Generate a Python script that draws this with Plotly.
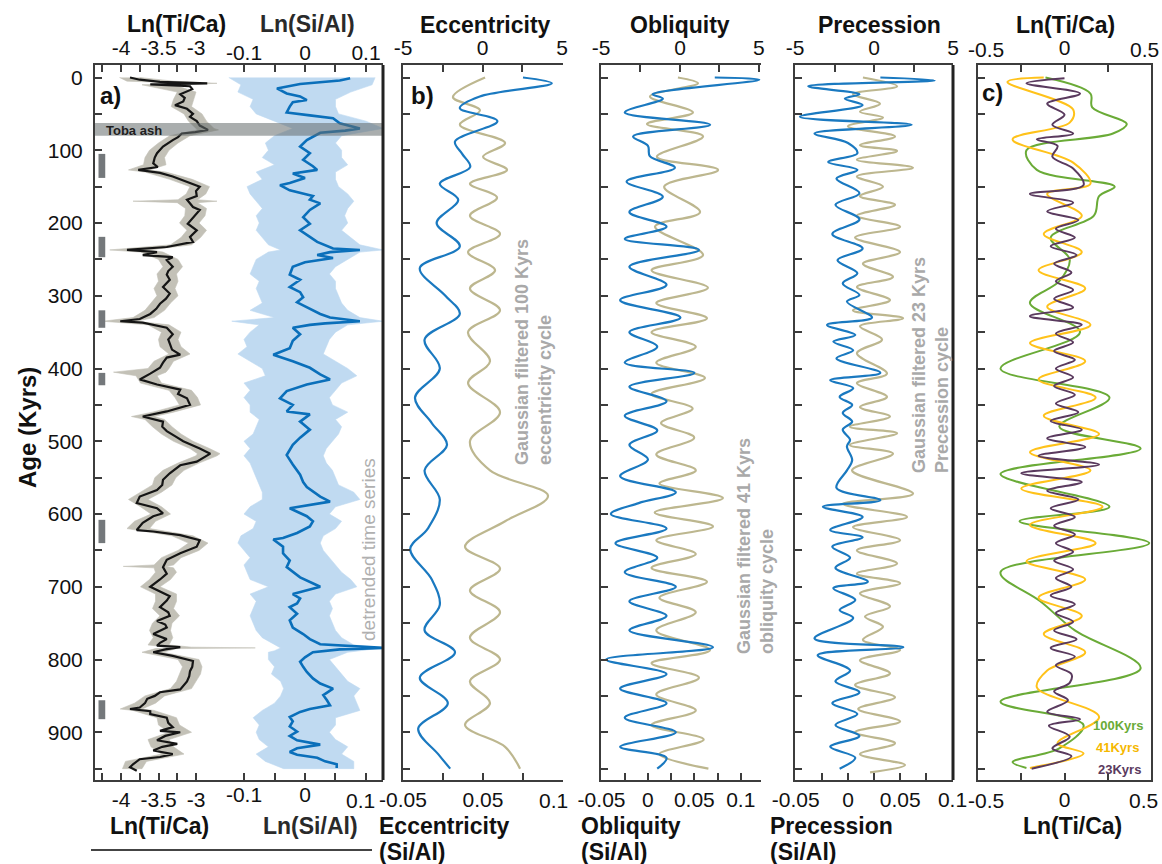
import plotly.graph_objects as go

W, H = 1162, 864
FONT = "Liberation Sans, Arial, Helvetica, sans-serif"

# ---------------- Panel a : Ln(Ti/Ca) ----------------
ti_age = [0,3,6,8,9.5,12,16,20,23,28,33,38,43,50,54,60,66,72,75,77,82,86,95,104,110,118,123,127,131,136,143,150,156,163,168,178,182,192,201,210,219,226,233,237,240,244,247,251,260,266,271,278,288,297,304,311,318,325,332,335,337,344,353,360,367,374,381,385,392,399,407,415,422,429,435,441,450,459,466,473,480,486,493,500,510,517,528,533,544,553,560,567,576,585,592,599,603,612,622,624,629,636,645,654,663,668,673,682,690,700,707,713,719,728,735,740,747,752,756,765,772,777,781,783,786,790,795,802,810,816,823,830,841,845,850,854,860,866,868,871,875,880,887,893,898,900,905,911,916,920,925,930,934,937,944,948,953]
ti_val = [-3.88,-3.75,-3.48,-2.85,-3.61,-3.08,-3.05,-3.13,-3.21,-3.15,-3.17,-3.28,-3.12,-3.04,-3.08,-2.99,-2.95,-2.84,-3.01,-3.19,-3.24,-3.31,-3.44,-3.52,-3.55,-3.57,-3.51,-3.77,-3.48,-3.31,-3.12,-2.95,-3.00,-2.99,-3.12,-3.04,-2.95,-3.04,-3.11,-2.99,-3.08,-3.04,-3.39,-3.92,-3.52,-3.71,-3.31,-3.39,-3.31,-3.37,-3.39,-3.35,-3.44,-3.35,-3.40,-3.48,-3.53,-3.61,-3.75,-4.01,-3.71,-3.39,-3.31,-3.37,-3.35,-3.32,-3.21,-3.39,-3.44,-3.48,-3.61,-3.75,-3.52,-3.21,-3.24,-3.12,-3.08,-3.39,-3.71,-3.44,-3.45,-3.39,-3.28,-3.17,-2.95,-2.81,-2.99,-3.21,-3.35,-3.44,-3.45,-3.52,-3.75,-3.79,-3.52,-3.44,-3.57,-3.71,-3.79,-3.57,-3.21,-2.95,-2.99,-3.21,-3.39,-3.41,-3.44,-3.39,-3.48,-3.61,-3.48,-3.35,-3.39,-3.48,-3.37,-3.35,-3.52,-3.41,-3.39,-3.57,-3.39,-3.48,-3.52,-3.21,-3.41,-3.57,-3.31,-3.04,-3.05,-3.08,-3.09,-3.12,-3.21,-3.48,-3.55,-3.65,-3.68,-3.75,-3.88,-3.61,-3.61,-3.39,-3.37,-3.31,-3.48,-3.21,-3.41,-3.52,-3.25,-3.45,-3.57,-3.31,-3.48,-3.75,-3.84,-3.88,-3.79]

# raw (non-filtered) Ln(Ti/Ca) spread, low / high edge
ti_raw_age = [0,5,8,10,20,30,40,50,60,70,72,80,90,100,110,120,127,130,140,150,160,168,170,172,180,190,200,210,220,230,237,240,250,260,270,280,290,300,310,320,330,335,340,350,360,370,380,390,400,405,410,420,430,440,450,460,466,470,480,490,500,510,517,520,530,540,550,560,570,580,590,600,610,620,630,640,650,660,670,672,674,680,690,700,710,720,730,740,750,760,770,780,783,784,785,790,800,810,820,830,840,850,860,868,870,880,890,900,910,920,930,940,950]
ti_raw_lo = [-4.02,-3.92,-3.05,-3.72,-3.25,-3.30,-3.33,-3.16,-3.10,-3.00,-2.98,-3.35,-3.50,-3.62,-3.68,-3.70,-3.90,-3.68,-3.35,-3.08,-3.13,-3.24,-3.84,-3.25,-3.14,-3.15,-3.22,-3.12,-3.20,-3.34,-4.15,-3.74,-3.50,-3.44,-3.52,-3.50,-3.56,-3.52,-3.60,-3.68,-3.84,-4.24,-3.64,-3.46,-3.50,-3.48,-3.36,-3.56,-3.64,-4.10,-3.80,-3.74,-3.36,-3.28,-3.22,-3.58,-3.86,-3.68,-3.58,-3.46,-3.30,-3.08,-2.98,-3.00,-3.24,-3.44,-3.55,-3.58,-3.74,-3.90,-3.74,-3.60,-3.82,-3.92,-3.32,-3.10,-3.24,-3.46,-3.56,-3.97,-3.56,-3.54,-3.62,-3.74,-3.54,-3.54,-3.58,-3.48,-3.58,-3.62,-3.57,-3.64,-3.36,-3.34,-3.54,-3.72,-3.24,-3.18,-3.22,-3.26,-3.34,-3.68,-3.82,-4.01,-3.84,-3.52,-3.50,-3.36,-3.64,-3.60,-3.46,-3.94,-3.98]
ti_raw_hi = [-3.75,-3.30,-2.72,-3.30,-3.00,-3.03,-3.06,-2.92,-2.86,-2.76,-2.70,-3.08,-3.24,-3.36,-3.42,-3.40,-3.62,-3.40,-3.05,-2.82,-2.87,-2.98,-2.72,-2.98,-2.86,-2.88,-2.96,-2.86,-2.94,-3.06,-3.62,-3.44,-3.24,-3.18,-3.26,-3.24,-3.28,-3.24,-3.34,-3.42,-3.56,-3.80,-3.36,-3.20,-3.24,-3.20,-3.08,-3.30,-3.36,-3.40,-3.52,-3.46,-3.06,-2.98,-2.94,-3.30,-3.56,-3.42,-3.32,-3.20,-3.04,-2.82,-2.68,-2.72,-2.96,-3.16,-3.27,-3.32,-3.46,-3.64,-3.46,-3.34,-3.54,-3.62,-3.04,-2.84,-2.96,-3.20,-3.30,-3.40,-3.30,-3.26,-3.34,-3.48,-3.26,-3.26,-3.30,-3.22,-3.32,-3.34,-3.31,-3.36,-3.06,-2.21,-3.26,-3.44,-2.96,-2.92,-2.94,-3.00,-3.06,-3.42,-3.54,-3.72,-3.56,-3.26,-3.22,-3.06,-3.36,-3.30,-3.16,-3.66,-3.72]

# ---------------- Panel a : Ln(Si/Al) ----------------
si_age = [1,4,9,15,22,26,31,34,40,48,52,56,63,70,73,76,86,95,104,113,122,127,132,138,145,148,155,163,168,173,182,192,201,210,219,226,235,237,240,244,248,254,260,271,278,288,295,302,309,316,325,330,335,338,340,344,353,362,372,381,390,399,408,415,422,431,441,450,459,463,473,484,495,505,519,532,546,556,563,576,583,592,603,610,617,626,633,635,645,654,664,673,687,700,710,716,723,728,737,746,756,765,772,779,784,786,790,797,803,810,817,826,833,840,849,856,863,868,872,879,885,892,899,905,911,917,922,927,931,935,940,944,949]
si_val = [0.074,0.057,-0.008,-0.046,-0.030,-0.008,0.003,-0.020,-0.025,-0.030,0.008,0.046,0.057,0.090,0.066,0.025,0.003,-0.008,0.008,-0.003,0.013,0.020,-0.020,0.000,-0.025,-0.041,-0.025,0.013,0.008,0.025,0.008,-0.003,0.008,-0.008,0.008,0.020,0.046,0.090,0.041,0.020,0.046,0.000,-0.020,-0.025,-0.008,-0.025,-0.008,-0.003,-0.013,0.003,0.025,0.041,0.090,0.033,0.008,-0.020,-0.008,-0.020,-0.025,-0.052,-0.020,0.008,0.025,0.041,0.003,-0.030,-0.041,-0.020,-0.030,0.008,-0.008,0.008,-0.008,-0.020,-0.030,-0.020,-0.008,-0.003,0.003,0.025,0.041,-0.025,0.003,0.013,0.008,-0.013,-0.036,-0.052,-0.036,-0.036,-0.025,-0.030,-0.008,0.025,-0.020,-0.008,-0.013,-0.025,-0.013,-0.025,-0.020,-0.003,0.008,0.025,0.128,0.057,0.013,0.000,-0.008,-0.003,0.003,0.013,0.025,0.046,0.030,0.036,0.041,0.008,-0.008,-0.025,-0.020,-0.025,-0.013,-0.025,-0.013,0.025,-0.013,-0.025,-0.013,0.020,0.033,0.052,0.052]

si_raw_age = [0,10,20,30,40,50,60,70,80,90,100,110,120,130,140,150,160,170,180,190,200,210,220,230,237,240,250,260,270,280,290,300,310,320,330,335,340,350,360,370,380,390,400,410,420,430,440,450,460,470,480,490,500,510,520,530,540,550,560,570,580,590,600,610,620,630,640,650,660,670,680,690,700,710,720,730,740,750,760,770,780,784,788,790,800,810,820,830,840,850,860,870,880,890,900,910,920,930,940,950]
si_raw_lo = [-0.125,-0.105,-0.110,-0.085,-0.090,-0.080,-0.050,-0.020,-0.050,-0.065,-0.060,-0.070,-0.050,-0.080,-0.070,-0.095,-0.090,-0.080,-0.070,-0.080,-0.075,-0.080,-0.070,-0.060,-0.040,-0.060,-0.080,-0.085,-0.090,-0.075,-0.080,-0.075,-0.070,-0.090,-0.050,-0.120,-0.075,-0.090,-0.100,-0.095,-0.110,-0.090,-0.070,-0.065,-0.100,-0.090,-0.100,-0.090,-0.090,-0.075,-0.080,-0.085,-0.100,-0.090,-0.100,-0.090,-0.085,-0.080,-0.075,-0.070,-0.070,-0.090,-0.100,-0.080,-0.085,-0.105,-0.110,-0.100,-0.090,-0.100,-0.095,-0.090,-0.060,-0.090,-0.080,-0.085,-0.090,-0.085,-0.080,-0.070,-0.050,-0.040,-0.050,-0.060,-0.060,-0.050,-0.055,-0.040,-0.035,-0.040,-0.050,-0.070,-0.085,-0.075,-0.080,-0.075,-0.060,-0.080,-0.065,-0.035]
si_raw_hi = [0.115,0.110,0.075,0.050,0.050,0.055,0.100,0.128,0.060,0.050,0.060,0.060,0.070,0.050,0.050,0.055,0.070,0.080,0.070,0.065,0.070,0.060,0.075,0.090,0.128,0.090,0.070,0.050,0.040,0.050,0.050,0.055,0.060,0.070,0.090,0.128,0.070,0.050,0.040,0.035,0.030,0.050,0.070,0.085,0.060,0.050,0.040,0.045,0.070,0.050,0.060,0.055,0.045,0.035,0.030,0.035,0.045,0.050,0.055,0.080,0.090,0.050,0.040,0.060,0.050,0.030,0.025,0.030,0.040,0.050,0.060,0.075,0.085,0.050,0.040,0.045,0.040,0.045,0.050,0.060,0.080,0.128,0.090,0.070,0.040,0.050,0.060,0.070,0.090,0.080,0.085,0.090,0.050,0.050,0.040,0.050,0.070,0.060,0.080,0.080]

# Toba ash layer and grey marker bars (ages, kyr)
toba_top, toba_bot = 62.5, 80
mark_top = [105, 219, 320, 406, 608, 856]
mark_bot = [138, 247, 344, 423, 640, 882]

# ---------------- Panel b : eccentricity ----------------
ecc_orb_age = [0,27,45,65,90,109,127,146,165,190,215,240,265,290,320,350,390,420,460,500,540,575,610,645,675,705,735,770,800,830,860,890,920,950]
ecc_orb_val = [0.16,-1.86,-0.16,-1.42,1.42,0.03,1.54,-0.79,0.91,-0.79,1.10,-0.91,0.79,-0.79,1.10,-0.91,0.47,-0.91,1.10,-0.79,0.47,4.12,1.42,-1.10,1.10,-0.79,1.10,-0.79,1.10,-0.79,0.47,-1.10,1.42,2.36]
ecc_si_age = [0,8,26,42,60,88,105,123,146,168,200,232,262,300,325,360,400,440,475,505,540,580,620,648,690,725,760,790,825,860,895,930,950]
ecc_si_val = [0.100,0.136,0.046,0.021,0.068,0.015,0.024,0.034,-0.004,0.019,-0.008,0.021,-0.029,0.003,0.021,-0.023,-0.004,-0.035,-0.014,0.005,-0.023,-0.004,-0.019,-0.041,-0.014,-0.004,-0.023,0.015,-0.029,0.006,-0.031,-0.006,0.009]

# ---------------- Panel b : obliquity ----------------
obl_orb_age = [0,8,26,48,64,81,109,127,150,185,205,244,265,289,310,331,350,370,392,413,435,455,475,495,518,540,558,578,598,617,636,655,674,693,715,735,760,787,805,825,848,870,890,910,930,950]
obl_orb_val = [-0.13,1.14,-1.90,0.82,-2.09,1.46,-1.46,2.41,-1.00,1.27,-1.58,1.46,-1.80,1.77,-1.50,1.71,-1.80,1.00,-1.50,1.58,-1.80,0.80,-1.20,0.90,-1.50,1.00,-1.30,2.72,-1.60,2.09,-1.50,1.00,-1.80,1.71,-1.30,1.00,-1.50,1.90,-1.80,1.20,-1.50,1.00,-1.80,1.50,-1.30,1.80]
obl_si_age = [0,3,23,29,48,65,81,94,108,124,143,164,185,205,222,237,260,285,306,330,350,370,392,406,425,445,465,485,505,525,548,570,585,600,620,640,660,680,700,720,740,760,783,800,820,840,860,880,900,920,935,950]
obl_si_val = [0.072,0.120,0.005,0.016,-0.025,0.067,-0.016,0.000,0.002,0.029,-0.023,0.016,-0.020,0.020,-0.025,0.055,-0.020,0.020,-0.030,0.035,-0.020,0.010,-0.025,0.050,-0.020,0.020,-0.025,0.010,-0.020,0.000,-0.030,0.030,-0.010,-0.040,0.020,-0.035,0.010,-0.025,0.030,-0.020,0.020,-0.020,0.070,-0.045,0.020,-0.030,0.020,-0.025,0.030,-0.030,0.020,0.010]

# ---------------- Panel b : precession ----------------
pre_orb_age = [0,12,23,36,47,55,67,81,93,101,113,124,136,150,163,175,190,205,220,240,256,274,288,306,320,331,342,360,379,407,420,439,453,466,480,489,505,517,540,572,586,604,618,636,650,668,682,695,709,727,741,755,773,787,801,819,835,852,868,885,900,915,930,945,955]
pre_orb_val = [-0.70,1.46,-1.33,0.38,-0.89,0.57,-1.65,1.33,-0.89,1.46,-1.08,2.47,-1.08,0.57,-0.89,1.33,-1.08,1.65,-1.20,1.65,-0.70,1.20,-1.08,1.01,-1.33,1.84,-0.89,0.51,-1.08,0.82,-1.08,0.82,-0.89,1.01,-1.52,1.46,-1.52,1.20,-1.39,2.47,-1.96,2.09,-1.33,1.65,-1.08,1.46,-1.08,1.65,-0.89,1.01,-0.57,0.57,-0.70,1.65,-0.89,1.01,-1.20,1.33,-1.00,1.65,-1.20,1.33,-0.89,1.96,-0.25]
pre_si_age = [0,4,12,23,29,38,54,65,77,90,104,116,127,139,159,175,195,215,235,251,269,283,299,308,330,340,354,363,375,386,406,416,427,439,450,461,473,484,498,507,526,540,564,581,590,604,622,632,645,660,674,693,702,718,732,743,771,783,794,815,830,845,860,875,890,905,920,935,950]
pre_si_val = [0.031,0.083,-0.038,0.011,-0.003,0.014,-0.046,0.061,-0.032,0.000,0.009,-0.019,0.009,-0.011,0.011,-0.012,0.011,-0.015,0.014,-0.010,0.009,-0.005,0.011,-0.001,0.023,-0.020,0.007,-0.014,0.005,-0.011,0.031,-0.017,0.005,-0.008,0.004,-0.005,0.004,-0.005,0.002,-0.001,0.004,-0.001,-0.011,0.031,-0.024,0.014,-0.017,0.014,-0.015,0.002,-0.012,0.019,-0.014,0.007,-0.008,0.005,-0.032,0.053,-0.029,0.002,-0.012,0.011,-0.015,0.009,-0.012,0.011,-0.017,0.007,-0.008]

# ---------------- Panel c : filtered Ln(Ti/Ca) ----------------
c100_age = [0,22,41,64,77,100,127,150,163,190,220,250,280,310,350,400,440,480,510,545,590,610,640,680,720,760,812,858,890,922,941,949]
c100_val = [-0.11,0.15,0.16,0.36,0.28,-0.22,-0.16,0.29,0.20,0.17,-0.08,0.03,-0.03,-0.20,0.09,-0.37,0.26,-0.03,0.44,-0.37,0.26,-0.26,0.49,-0.37,-0.14,0.06,0.44,-0.37,0.11,-0.03,-0.30,-0.22]
c41_age = [0,6,44,62,85,117,146,160,190,215,240,265,290,315,340,365,390,415,440,465,490,515,540,565,590,615,640,665,690,715,740,765,790,815,838,879,915,929,949]
c41_val = [-0.12,-0.33,0.05,0.03,-0.30,0.05,0.15,-0.10,0.10,-0.12,0.10,-0.15,0.12,-0.10,0.15,-0.20,0.12,-0.15,0.18,-0.12,0.20,-0.20,0.15,-0.25,0.22,-0.20,0.18,-0.22,0.12,-0.15,0.10,-0.12,0.12,-0.10,-0.16,0.20,-0.04,0.11,-0.20]
c23_age = [1,8,22,36,51,65,77,85,94,109,125,148,160,172,184,196,208,220,232,244,256,268,280,292,304,316,328,340,352,364,376,388,400,412,424,436,448,460,472,484,496,508,520,532,544,556,568,580,592,604,616,628,640,652,664,676,688,700,712,724,736,748,760,772,784,796,808,820,832,844,856,872,882,891,906,922,933,950]
c23_val = [0.00,-0.22,0.09,-0.10,0.00,-0.07,0.05,-0.16,-0.04,-0.07,0.05,0.11,-0.20,0.05,-0.10,0.08,-0.05,0.06,-0.08,0.07,-0.06,0.04,-0.05,0.05,-0.06,0.05,-0.20,0.10,-0.05,0.05,-0.06,0.06,-0.05,0.05,-0.06,0.06,-0.05,0.08,-0.08,0.10,-0.10,0.12,-0.15,0.20,-0.25,0.10,-0.10,0.08,-0.08,0.06,-0.06,0.06,-0.05,0.05,-0.06,0.05,-0.05,0.04,-0.08,0.06,-0.05,0.05,-0.06,0.07,-0.08,0.06,-0.05,0.04,0.03,-0.06,0.02,-0.10,0.09,-0.09,0.03,-0.07,0.04,-0.19]

# ======================================================================
C_GREY = "#c3c1b7"
C_BLACK = "#151515"
C_LBLUE = "#c0daf1"
C_BLUE = "#0a6fba"
C_TAN = "#bdb78f"
C_BBLUE = "#1a79c0"
C_GREEN = "#6aab37"
C_YELLOW = "#ffc21a"
C_PURPLE = "#5a3a5e"
AX = "#3c3c3c"

fig = go.Figure()

def band(age, lo, hi, color, xa, ya):
    fig.add_trace(go.Scatter(x=lo + hi[::-1], y=age + age[::-1], fill="toself",
                             fillcolor=color, line=dict(width=0.6, color=color),
                             mode="lines", xaxis=xa, yaxis=ya, hoverinfo="skip", showlegend=False))

def line(x, y, color, width, xa, ya, shape="linear"):
    fig.add_trace(go.Scatter(x=x, y=y, mode="lines", line=dict(color=color, width=width, shape=shape),
                             xaxis=xa, yaxis=ya, hoverinfo="skip", showlegend=False))

# panel a
band(ti_raw_age, ti_raw_lo, ti_raw_hi, C_GREY, "x", "y")
line(ti_val, ti_age, C_BLACK, 2.2, "x", "y")
band(si_raw_age, si_raw_lo, si_raw_hi, C_LBLUE, "x2", "y")
line(si_val, si_age, C_BLUE, 2.6, "x2", "y")
# panel b
line(ecc_orb_val, ecc_orb_age, C_TAN, 2.2, "x5", "y2", "spline")
line(ecc_si_val, ecc_si_age, C_BBLUE, 2.2, "x6", "y2", "spline")
line(obl_orb_val, obl_orb_age, C_TAN, 2.2, "x7", "y3", "spline")
line(obl_si_val, obl_si_age, C_BBLUE, 2.2, "x8", "y3", "spline")
line(pre_orb_val, pre_orb_age, C_TAN, 2.2, "x9", "y4", "spline")
line(pre_si_val, pre_si_age, C_BBLUE, 2.2, "x10", "y4", "spline")
# panel c
line(c100_val, c100_age, C_GREEN, 2.0, "x11", "y5", "spline")
line(c41_val, c41_age, C_YELLOW, 2.0, "x11", "y5", "spline")
line(c23_val, c23_age, C_PURPLE, 2.0, "x11", "y5", "spline")
# dummy traces so every bottom axis gets drawn
for xa, ya in [("x3", "y"), ("x4", "y"), ("x12", "y5")]:
    fig.add_trace(go.Scatter(x=[None], y=[None], xaxis=xa, yaxis=ya, showlegend=False, hoverinfo="skip"))

YR = [965.6, -17.2]
ydom = [1 - 780 / H, 1 - 65 / H]
TF = dict(family=FONT, size=21, color="#111")

def dom(a, b):
    return [a / W, b / W]

def xax(domain, rng, side, anchor, tv, tt, showline=True, overlay=None):
    d = dict(domain=domain, range=rng, side=side, anchor=anchor, tickmode="array", tickvals=tv, ticktext=tt,
             ticks="inside", ticklen=7, tickwidth=1.5, tickcolor=AX, showline=showline, linecolor=AX,
             linewidth=2, showgrid=False, zeroline=False, tickfont=TF, fixedrange=True, automargin=False)
    if overlay:
        d["overlaying"] = overlay
    return d

def yax(domain, anchor, labels, mirror=False):
    tv = list(range(0, 951, 50))
    tt = [str(v) if (v % 100 == 0 and labels) else "" for v in tv]
    return dict(domain=ydom, range=YR, anchor=anchor, tickmode="array", tickvals=tv, ticktext=tt,
                ticks="inside", ticklen=7, tickwidth=1.5, tickcolor=AX, showline=True, linecolor=AX,
                linewidth=2, mirror=mirror, showgrid=False, zeroline=False, tickfont=TF,
                showticklabels=labels, ticklabelstandoff=6, fixedrange=True, automargin=False)

da = dom(95, 383)
ti_rng = [-4.3467, -0.5067]
si_rng = [-0.3443, 0.1279]
ti_tv = [-4.25, -4, -3.75, -3.5, -3.25, -3]
ti_tt = ["", "-4", "", "-3.5", "", "-3"]
si_tv = [-0.1, -0.05, 0, 0.05, 0.1]
si_tt = ["-0.1", "", "0", "", "0.1"]
si_tt_bottom = ["-0.1", "", "0", "", ""]   # bottom "0.1" sits a little left of its tick (annotation)
orb_tv = [-5, -2.5, 0, 2.5, 5]
orb_tt = ["-5", "", "0", "", "5"]
c_tv = [-0.5, -0.25, 0, 0.25, 0.5]
c_tt = ["", "", "0", "", ""]   # edge labels are drawn slightly inside (see annotations)

layout = dict(
    width=W, height=H, margin=dict(l=0, r=0, t=0, b=0, pad=0, autoexpand=False),
    paper_bgcolor="white", plot_bgcolor="rgba(0,0,0,0)",
    showlegend=False, font=dict(family=FONT, color="#111"),
    xaxis=xax(da, ti_rng, "top", "y", ti_tv, ti_tt),
    xaxis2=xax(da, si_rng, "top", "y", si_tv, si_tt, showline=False, overlay="x"),
    xaxis3=xax(da, ti_rng, "bottom", "y", ti_tv, ti_tt, overlay="x"),
    xaxis4=xax(da, si_rng, "bottom", "y", si_tv, si_tt_bottom, showline=False, overlay="x"),
    yaxis=yax(ydom, "x", True),
    xaxis5=xax(dom(403, 563), [-5, 5.06], "top", "y2", orb_tv, orb_tt),
    xaxis6=xax(dom(403, 563), [-0.05, 0.15], "bottom", "y2", [-0.05, 0, 0.05, 0.1, 0.15], ["-0.05", "", "0.05", "", ""], overlay="x5"),
    yaxis2=yax(ydom, "x5", False),
    xaxis7=xax(dom(601, 761), [-5.0, 5.13], "top", "y3", orb_tv, orb_tt),
    xaxis8=xax(dom(601, 761), [-0.0506, 0.1218], "bottom", "y3", [-0.05, -0.025, 0, 0.025, 0.05, 0.075, 0.1], ["-0.05", "", "0", "", "0.05", "", "0.1"], overlay="x7"),
    yaxis3=yax(ydom, "x7", False),
    xaxis9=xax(dom(795, 953), [-5, 5], "top", "y4", orb_tv, orb_tt),
    xaxis10=xax(dom(795, 953), [-0.0507, 0.1005], "bottom", "y4", [-0.05, -0.025, 0, 0.025, 0.05, 0.075, 0.1], ["-0.05", "", "0", "", "0.05", "", "0.1"], overlay="x9"),
    yaxis4=yax(ydom, "x9", False),
    xaxis11=xax(dom(978, 1151), [-0.5, 0.5], "top", "y5", c_tv, c_tt),
    xaxis12=xax(dom(978, 1151), [-0.5, 0.5], "bottom", "y5", c_tv, c_tt, overlay="x11"),
    yaxis5=yax(ydom, "x11", False, mirror=True),
)
fig.update_layout(**layout)

shapes = []
# Toba ash band
shapes.append(dict(type="rect", xref="paper", yref="y", x0=95 / W, x1=383 / W, y0=toba_top, y1=toba_bot,
                   fillcolor="rgba(100,108,108,0.55)", line=dict(width=0), layer="above"))
# marker bars
for t, b in zip(mark_top, mark_bot):
    shapes.append(dict(type="rect", xref="x", yref="y", x0=-4.30, x1=-4.21, y0=t, y1=b,
                       fillcolor="#74787b", line=dict(width=0), layer="above"))
# thick right borders
for px in (383, 953):
    shapes.append(dict(type="line", xref="paper", yref="paper", x0=px / W, x1=px / W, y0=1 - 65 / H, y1=1 - 780 / H,
                       line=dict(color="#222", width=3)))
# separator line under panel a
shapes.append(dict(type="line", xref="paper", yref="paper", x0=91 / W, x1=372 / W, y0=1 - 850 / H, y1=1 - 850 / H,
                   line=dict(color="#444", width=2)))
fig.update_layout(shapes=shapes)

ann = []
def txt(s, px, py, size, bold=True, color="#111", xanchor="center", angle=0):
    t = f"<b>{s}</b>" if bold else s
    ann.append(dict(text=t, x=px / W, y=1 - py / H, xref="paper", yref="paper", showarrow=False,
                    xanchor=xanchor, yanchor="middle", textangle=angle,
                    font=dict(family=FONT, size=size, color=color), align="left"))

# top titles
txt("Ln(Ti/Ca)", 176, 24, 23)
txt("Ln(Si/Al)", 307, 24, 23, color="#2a2a2a")
txt("Eccentricity", 485, 25, 23)
txt("Obliquity", 680, 25, 23)
txt("Precession", 879, 25, 23)
txt("Ln(Ti/Ca)", 1065, 25, 23)
# bottom titles
txt("Ln(Ti/Ca)", 160, 826, 23)
txt("Ln(Si/Al)", 310, 826, 23, color="#2a2a2a")
txt("Eccentricity", 377, 826, 23, xanchor="left")
txt("(Si/Al)", 377, 852, 23, xanchor="left")
txt("Obliquity", 579, 826, 23, xanchor="left")
txt("(Si/Al)", 579, 852, 23, xanchor="left")
txt("Precession", 768, 826, 23, xanchor="left")
txt("(Si/Al)", 768, 852, 23, xanchor="left")
txt("Ln(Ti/Ca)", 1072, 826, 23)
# tick labels drawn off-tick, as in the original figure
txt("0.1", 360, 800, 21, bold=False)
txt("0.1", 553, 800, 21, bold=False)
txt("-0.5", 986, 49, 21, bold=False)
txt("0.5", 1144, 49, 21, bold=False)
txt("-0.5", 986, 800, 21, bold=False)
txt("0.5", 1143, 800, 21, bold=False)
# panel letters
txt("a)", 110, 95, 24)
txt("b)", 422, 95, 24)
txt("c)", 992, 93, 24)
txt("Toba ash", 134, 130, 13, color="#1e1e1e")
txt("Age (Kyrs)", 27, 428, 24, angle=-90)
# rotated grey notes
txt("detrended time series", 368, 550, 19, bold=False, color="#b0b0b0", angle=-90)
txt("Gaussian filtered 100 Kyrs<br>eccentricity cycle", 533, 352, 18, color="#a9a9a9", angle=-90)
txt("Gaussian filtered 41 Kyrs<br>obliquity cycle", 755, 546, 18, color="#a9a9a9", angle=-90)
txt("Gaussian filtered 23 Kyrs<br>Precession cycle", 930, 365, 18, color="#a9a9a9", angle=-90)
# panel c legend
txt("100Kyrs", 1146, 725, 13, color=C_GREEN, xanchor="right")
txt("41Kyrs", 1141, 747, 13, color="#f5b800", xanchor="right")
txt("23Kyrs", 1143, 769, 13, color=C_PURPLE, xanchor="right")
fig.update_layout(annotations=ann)

fig.write_html("out.html", config={"displayModeBar": False},
               post_script="document.body.style.margin='0px';document.body.style.padding='0px';document.body.style.overflow='hidden';")
